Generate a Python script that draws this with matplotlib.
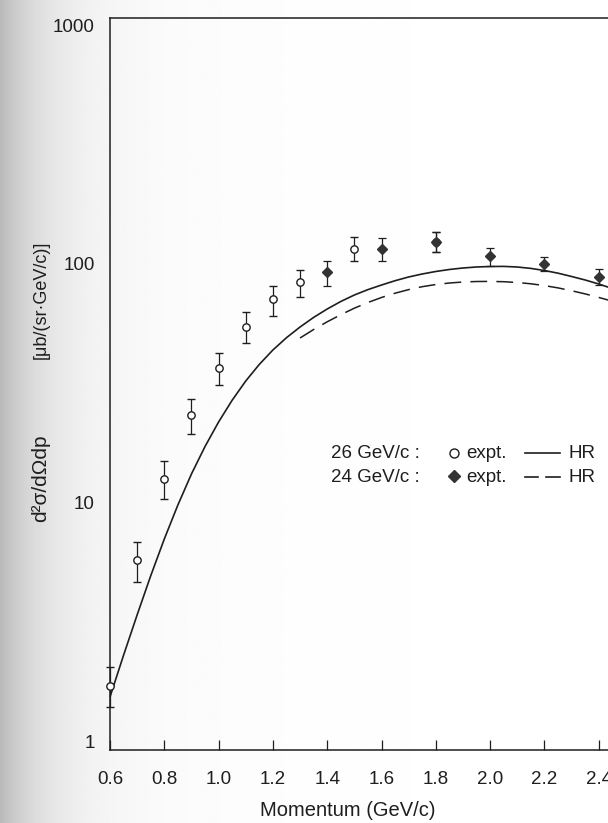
import numpy as np
import matplotlib
matplotlib.use("Agg")
import matplotlib.pyplot as plt
from matplotlib.lines import Line2D

plt.rcParams['font.family'] = ['Liberation Sans', 'DejaVu Sans']

# ---- data ----
# 26 GeV/c experiment (open circles)
p26 = [0.6, 0.7, 0.8, 0.9, 1.0, 1.1, 1.2, 1.3, 1.5, 1.8]
v26 = [1.70, 5.74, 12.5, 23.3, 36.6, 54.4, 71.3, 84.1, 115.6, 123.7]
lo26 = [1.39, 4.64, 10.3, 19.4, 31.1, 46.6, 60.5, 72.7, 103.0, 112.3]
hi26 = [2.04, 6.83, 14.9, 27.2, 42.4, 62.9, 80.9, 94.4, 129.8, 136.3]

# 24 GeV/c experiment (filled diamonds)
p24 = [1.4, 1.6, 1.8, 2.0, 2.2, 2.4]
v24 = [92.5, 115.6, 123.7, 108.0, 100.0, 88.2]
lo24 = [80.9, 103.0, 112.3, 98.1, 93.5, 81.6]
hi24 = [103.0, 128.5, 136.3, 116.7, 107.0, 95.3]

# HR model curves
hr26_p = [0.60, 0.65, 0.70, 0.75, 0.80, 0.85, 0.90, 0.95, 1.00, 1.05, 1.10, 1.15,
          1.20, 1.25, 1.30, 1.35, 1.40, 1.45, 1.50, 1.55, 1.60, 1.65, 1.70, 1.75,
          1.80, 1.85, 1.90, 1.95, 2.00, 2.05, 2.10, 2.15, 2.20, 2.25, 2.30, 2.35,
          2.40, 2.45]
hr26_v = [1.53, 2.29, 3.38, 4.93, 7.03, 9.76, 13.17, 17.17, 21.76, 26.85, 32.32, 37.94,
          43.60, 49.09, 54.43, 59.71, 64.76, 69.63, 74.13, 78.09, 81.63, 85.11, 88.22, 90.81,
          93.03, 94.84, 96.21, 97.15, 97.61, 97.71, 97.15, 95.84, 93.93, 91.52, 88.65, 85.70,
          82.45, 78.93]
hr24_p = [1.30, 1.35, 1.40, 1.45, 1.50, 1.55, 1.60, 1.65, 1.70, 1.75, 1.80, 1.85,
          1.90, 1.95, 2.00, 2.05, 2.10, 2.15, 2.20, 2.25, 2.30, 2.35, 2.40, 2.45]
hr24_v = [48.95, 53.13, 57.23, 61.29, 65.27, 68.96, 72.37, 75.44, 78.09, 80.33, 82.03, 83.23,
          84.04, 84.45, 84.53, 84.29, 83.64, 82.61, 81.19, 79.40, 77.27, 74.93, 72.44, 69.83]

xticks = [0.6, 0.8, 1.0, 1.2, 1.4, 1.6, 1.8, 2.0, 2.2, 2.4]
xticklabels = ['0.6', '0.8', '1.0', '1.2', '1.4', '1.6', '1.8', '2.0', '2.2', '2.4']
yticks = [1, 10, 100, 1000]
yticklabels = ['1', '10', '100', '1000']

INK = '#1e1e1e'
W, H = 608, 823

def fpos(x, y):
    return x / W, 1 - y / H

fig = plt.figure(figsize=(W / 100, H / 100), dpi=100, facecolor='white')

# scanned-page shading on the left edge
bg = fig.add_axes([0, 0, 1, 1], zorder=-10)
xx = np.linspace(0, W, 300)
yy = np.linspace(0, H, 200)
X, Y = np.meshgrid(xx, yy)
shade = 1 - 0.24 * np.exp(-X / 45.0) - 0.03 * np.exp(-X / 200.0)
bg.imshow(shade, cmap='gray', vmin=0, vmax=1, aspect='auto', extent=[0, 1, 0, 1],
          interpolation='bilinear')
bg.set_axis_off()

ax = fig.add_axes([110 / W, 73 / H, 543 / W, 732 / H])
ax.patch.set_alpha(0)
ax.set_yscale('log')
ax.set_xlim(0.6, 2.6)
ax.set_ylim(10 ** (-9 / 238.5), 10 ** ((741 - 18) / 238.5))

# curves
ax.plot(hr26_p, hr26_v, color=INK, lw=1.2, solid_capstyle='butt', clip_on=False)
ax.plot(hr24_p, hr24_v, color=INK, lw=1.1, dashes=(11, 6), clip_on=False)

# data with error bars
y26 = np.array(v26)
eb1 = ax.errorbar(p26, v26, yerr=[y26 - np.array(lo26), np.array(hi26) - y26],
                  fmt='o', ms=5.3, mfc='white', mec=INK, mew=1.0, ecolor=INK,
                  elinewidth=0.9, capsize=2.6, capthick=0.9, zorder=3)
y24 = np.array(v24)
eb2 = ax.errorbar(p24, v24, yerr=[y24 - np.array(lo24), np.array(hi24) - y24],
                  fmt='D', ms=5, mfc='#333333', mec='#333333', ecolor=INK,
                  elinewidth=0.9, capsize=2.6, capthick=0.9, zorder=4)
for eb in (eb1, eb2):
    for art in eb.get_children():
        art.set_clip_on(False)

ax.spines['right'].set_visible(False)
for s in ['left', 'bottom', 'top']:
    ax.spines[s].set_color(INK)
    ax.spines[s].set_linewidth(1.1)

ax.set_xticks(xticks)
ax.set_xticklabels(xticklabels)
ax.set_yticks(yticks)
ax.set_yticklabels(yticklabels)
ax.yaxis.set_minor_locator(matplotlib.ticker.NullLocator())
ax.tick_params(axis='x', direction='in', length=7, width=0.9, color=INK,
               labelsize=13.5, labelcolor=INK, pad=15, top=False)
ax.tick_params(axis='y', length=0, labelsize=13.5, labelcolor=INK, pad=11)

# axis titles
fig.text(*fpos(348, 810), 'Momentum (GeV/c)', ha='center', va='center',
         fontsize=14.5, color=INK)
fig.text(*fpos(41, 478), 'd²σ/dΩdp', ha='center', va='center', rotation=90,
         fontsize=15, color=INK)
fig.text(*fpos(41, 300), '[μb/(sr·GeV/c)]', ha='center', va='center', rotation=90,
         fontsize=13, color=INK)

# legend (hand-laid like the original)
rows = [(453, '26 GeV/c :', 'o', '-'), (477, '24 GeV/c :', 'D', '--')]
for yy_, lab, mk, ls in rows:
    fig.text(*fpos(331, yy_), lab, ha='left', va='center', fontsize=13.5, color=INK)
    if mk == 'o':
        fig.add_artist(Line2D([454 / W], [1 - yy_ / H], transform=fig.transFigure,
                              marker='o', ms=6.5, mfc='white', mec=INK, mew=1.0, ls='none'))
    else:
        fig.add_artist(Line2D([454 / W], [1 - (yy_ - 1) / H], transform=fig.transFigure,
                              marker='D', ms=6, mfc='#333333', mec='#333333', ls='none'))
    fig.text(*fpos(466, yy_), 'expt.', ha='left', va='center', fontsize=13.5, color=INK)
    if ls == '-':
        fig.add_artist(Line2D([525 / W, 560 / W], [1 - yy_ / H] * 2,
                              transform=fig.transFigure, color=INK, lw=1.2))
    else:
        for a, b in [(525, 538), (546, 560)]:
            fig.add_artist(Line2D([a / W, b / W], [1 - yy_ / H] * 2,
                                  transform=fig.transFigure, color=INK, lw=1.2))
    fig.text(*fpos(569, yy_), 'HR', ha='left', va='center', fontsize=13.5, color=INK)

fig.savefig('out.png', dpi=100, facecolor='white')
